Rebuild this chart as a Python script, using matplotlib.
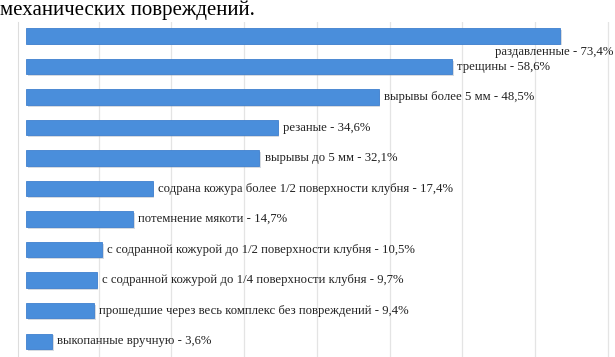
import matplotlib.pyplot as plt

# categories and their shares (%), top to bottom
labels = [
    "раздавленные",
    "трещины",
    "вырывы более 5 мм",
    "резаные",
    "вырывы до 5 мм",
    "содрана кожура более 1/2 поверхности клубня",
    "потемнение мякоти",
    "с содранной кожурой до 1/2 поверхности клубня",
    "с содранной кожурой до 1/4 поверхности клубня",
    "прошедшие через весь комплекс без повреждений",
    "выкопанные вручную",
]
values = [73.4, 58.6, 48.5, 34.6, 32.1, 17.4, 14.7, 10.5, 9.7, 9.4, 3.6]
value_text = ["73,4", "58,6", "48,5", "34,6", "32,1", "17,4", "14,7", "10,5", "9,7", "9,4", "3,6"]
grid_ticks = [10, 20, 30, 40, 50, 60, 70, 80]

plt.rcParams['font.family'] = ['Liberation Serif', 'DejaVu Serif']

fig = plt.figure(figsize=(6.15, 3.57), dpi=100)
ax = fig.add_axes([18 / 615, 0, 597 / 615, 335 / 357])

pos = list(range(len(values)))

# soft shadow under the bars
ax.barh([p + 0.06 for p in pos], values, left=0.25, height=0.5,
        color="#9aa6b4", alpha=0.4, zorder=2)
ax.barh(pos, values, height=0.5, color="#4a8edb", edgecolor="#3f80cf",
        linewidth=0.6, zorder=3)

for i, (lab, v, t) in enumerate(zip(labels, values, value_text)):
    txt = lab + " - " + t + "%"
    if i == 0:
        ax.text(80.8, i + 0.52, txt, ha="right", va="center", fontsize=9.2,
                color="#222222", zorder=5)
    else:
        ax.text(v + 0.7, i, txt, ha="left", va="center", fontsize=9.2,
                color="#222222", zorder=5)

for g in grid_ticks:
    ax.axvline(g, color="#e4e4e4", linewidth=0.9, zorder=1)

ax.set_xlim(-1.1, 81)
ax.set_ylim(10.52, -0.46)
ax.set_xticks([])
ax.set_yticks([])
for side in ["top", "right", "bottom"]:
    ax.spines[side].set_visible(False)
ax.spines["left"].set_color("#dddddd")

fig.text(0.0, 1.0, "механических повреждений.", ha="left", va="top",
         fontsize=15, color="black")

fig.savefig("out.png", dpi=100)
